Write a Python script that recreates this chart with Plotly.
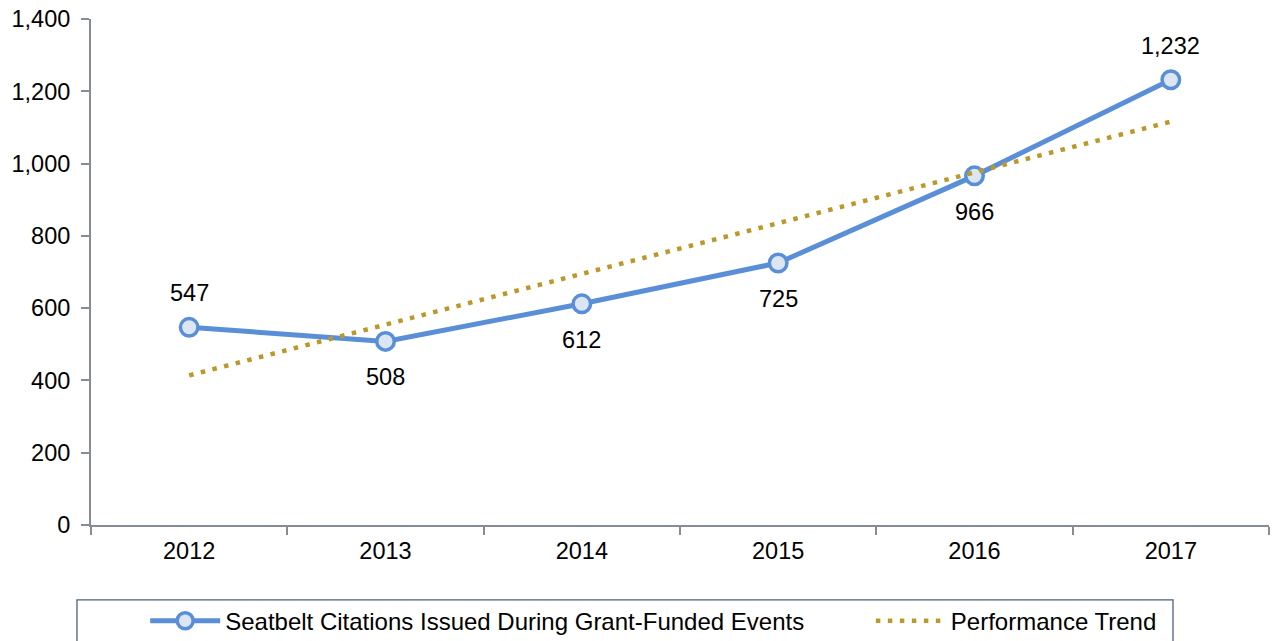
import plotly.graph_objects as go

# data
years = ["2012", "2013", "2014", "2015", "2016", "2017"]
citations = [547, 508, 612, 725, 966, 1232]
label_above = [True, False, False, False, False, True]

# linear performance trend, endpoints
trend_years = ["2012", "2017"]
trend_values = [414, 1116]

y_ticks = [0, 200, 400, 600, 800, 1000, 1200, 1400]

BLUE = "#5A8FD8"
FILL = "#DCE6F2"
GOLD = "#BB982A"
AXIS = "#858C93"
FONT = "Liberation Sans, Arial, sans-serif"

fig = go.Figure()

fig.add_trace(
    go.Scatter(
        x=years,
        y=citations,
        name="Seatbelt Citations Issued During Grant-Funded Events",
        mode="lines+markers",
        line=dict(color=BLUE, width=5),
        marker=dict(size=17.5, color=FILL, line=dict(color=BLUE, width=3.5)),
        legend="legend",
    )
)
fig.add_trace(
    go.Scatter(
        x=trend_years,
        y=trend_values,
        name="Performance Trend",
        mode="lines",
        line=dict(color=GOLD, width=4.5, dash="4.5px,7.5px"),
        legend="legend2",
    )
)

# value labels
for i, (v, up) in enumerate(zip(citations, label_above)):
    fig.add_annotation(
        x=i, y=v, xref="x", yref="y", text=f"{v:,}", showarrow=False,
        yshift=34 if up else -36,
        font=dict(family=FONT, size=23.5, color="black"),
    )

# legend frame
fig.add_shape(
    type="rect", xref="paper", yref="paper",
    x0=-0.0119, x1=0.9185, y0=-0.25, y1=-0.148,
    line=dict(color="#4F5F78", width=1.3), fillcolor="rgba(0,0,0,0)",
    layer="below",
)

axis_style = dict(
    ticks="outside",
    ticklen=8,
    tickwidth=1.5,
    tickcolor=AXIS,
    showline=True,
    linecolor=AXIS,
    linewidth=2,
    showgrid=False,
    zeroline=False,
    fixedrange=True,
    automargin=False,
    ticklabeloverflow="allow",
)

fig.update_layout(
    width=1278,
    height=641,
    margin=dict(l=91, r=9, t=19, b=116, autoexpand=False),
    paper_bgcolor="white",
    plot_bgcolor="white",
    font=dict(family=FONT, size=23.5, color="black"),
    showlegend=True,
    hovermode=False,
    legend=dict(
        x=0.046, y=-0.19, xanchor="left", yanchor="middle",
        orientation="h", itemwidth=70, bgcolor="rgba(0,0,0,0)",
        font=dict(family=FONT, size=24),
    ),
    legend2=dict(
        x=0.662, y=-0.19, xanchor="left", yanchor="middle",
        orientation="h", itemwidth=70, bgcolor="rgba(0,0,0,0)",
        font=dict(family=FONT, size=24),
    ),
    xaxis=dict(
        type="category",
        range=[-0.5, 5.5],
        tickson="boundaries",
        ticklabelstandoff=4,
        **axis_style,
    ),
    yaxis=dict(
        range=[0, 1400],
        tickvals=y_ticks,
        tickformat=",",
        ticklabelstandoff=6,
        **axis_style,
    ),
)

# drop the default 8px page margin so the figure fills the window
fig.write_html(
    "out.html",
    config={"displayModeBar": False},
    post_script="document.body.style.margin='0';document.body.style.overflow='hidden';",
)
